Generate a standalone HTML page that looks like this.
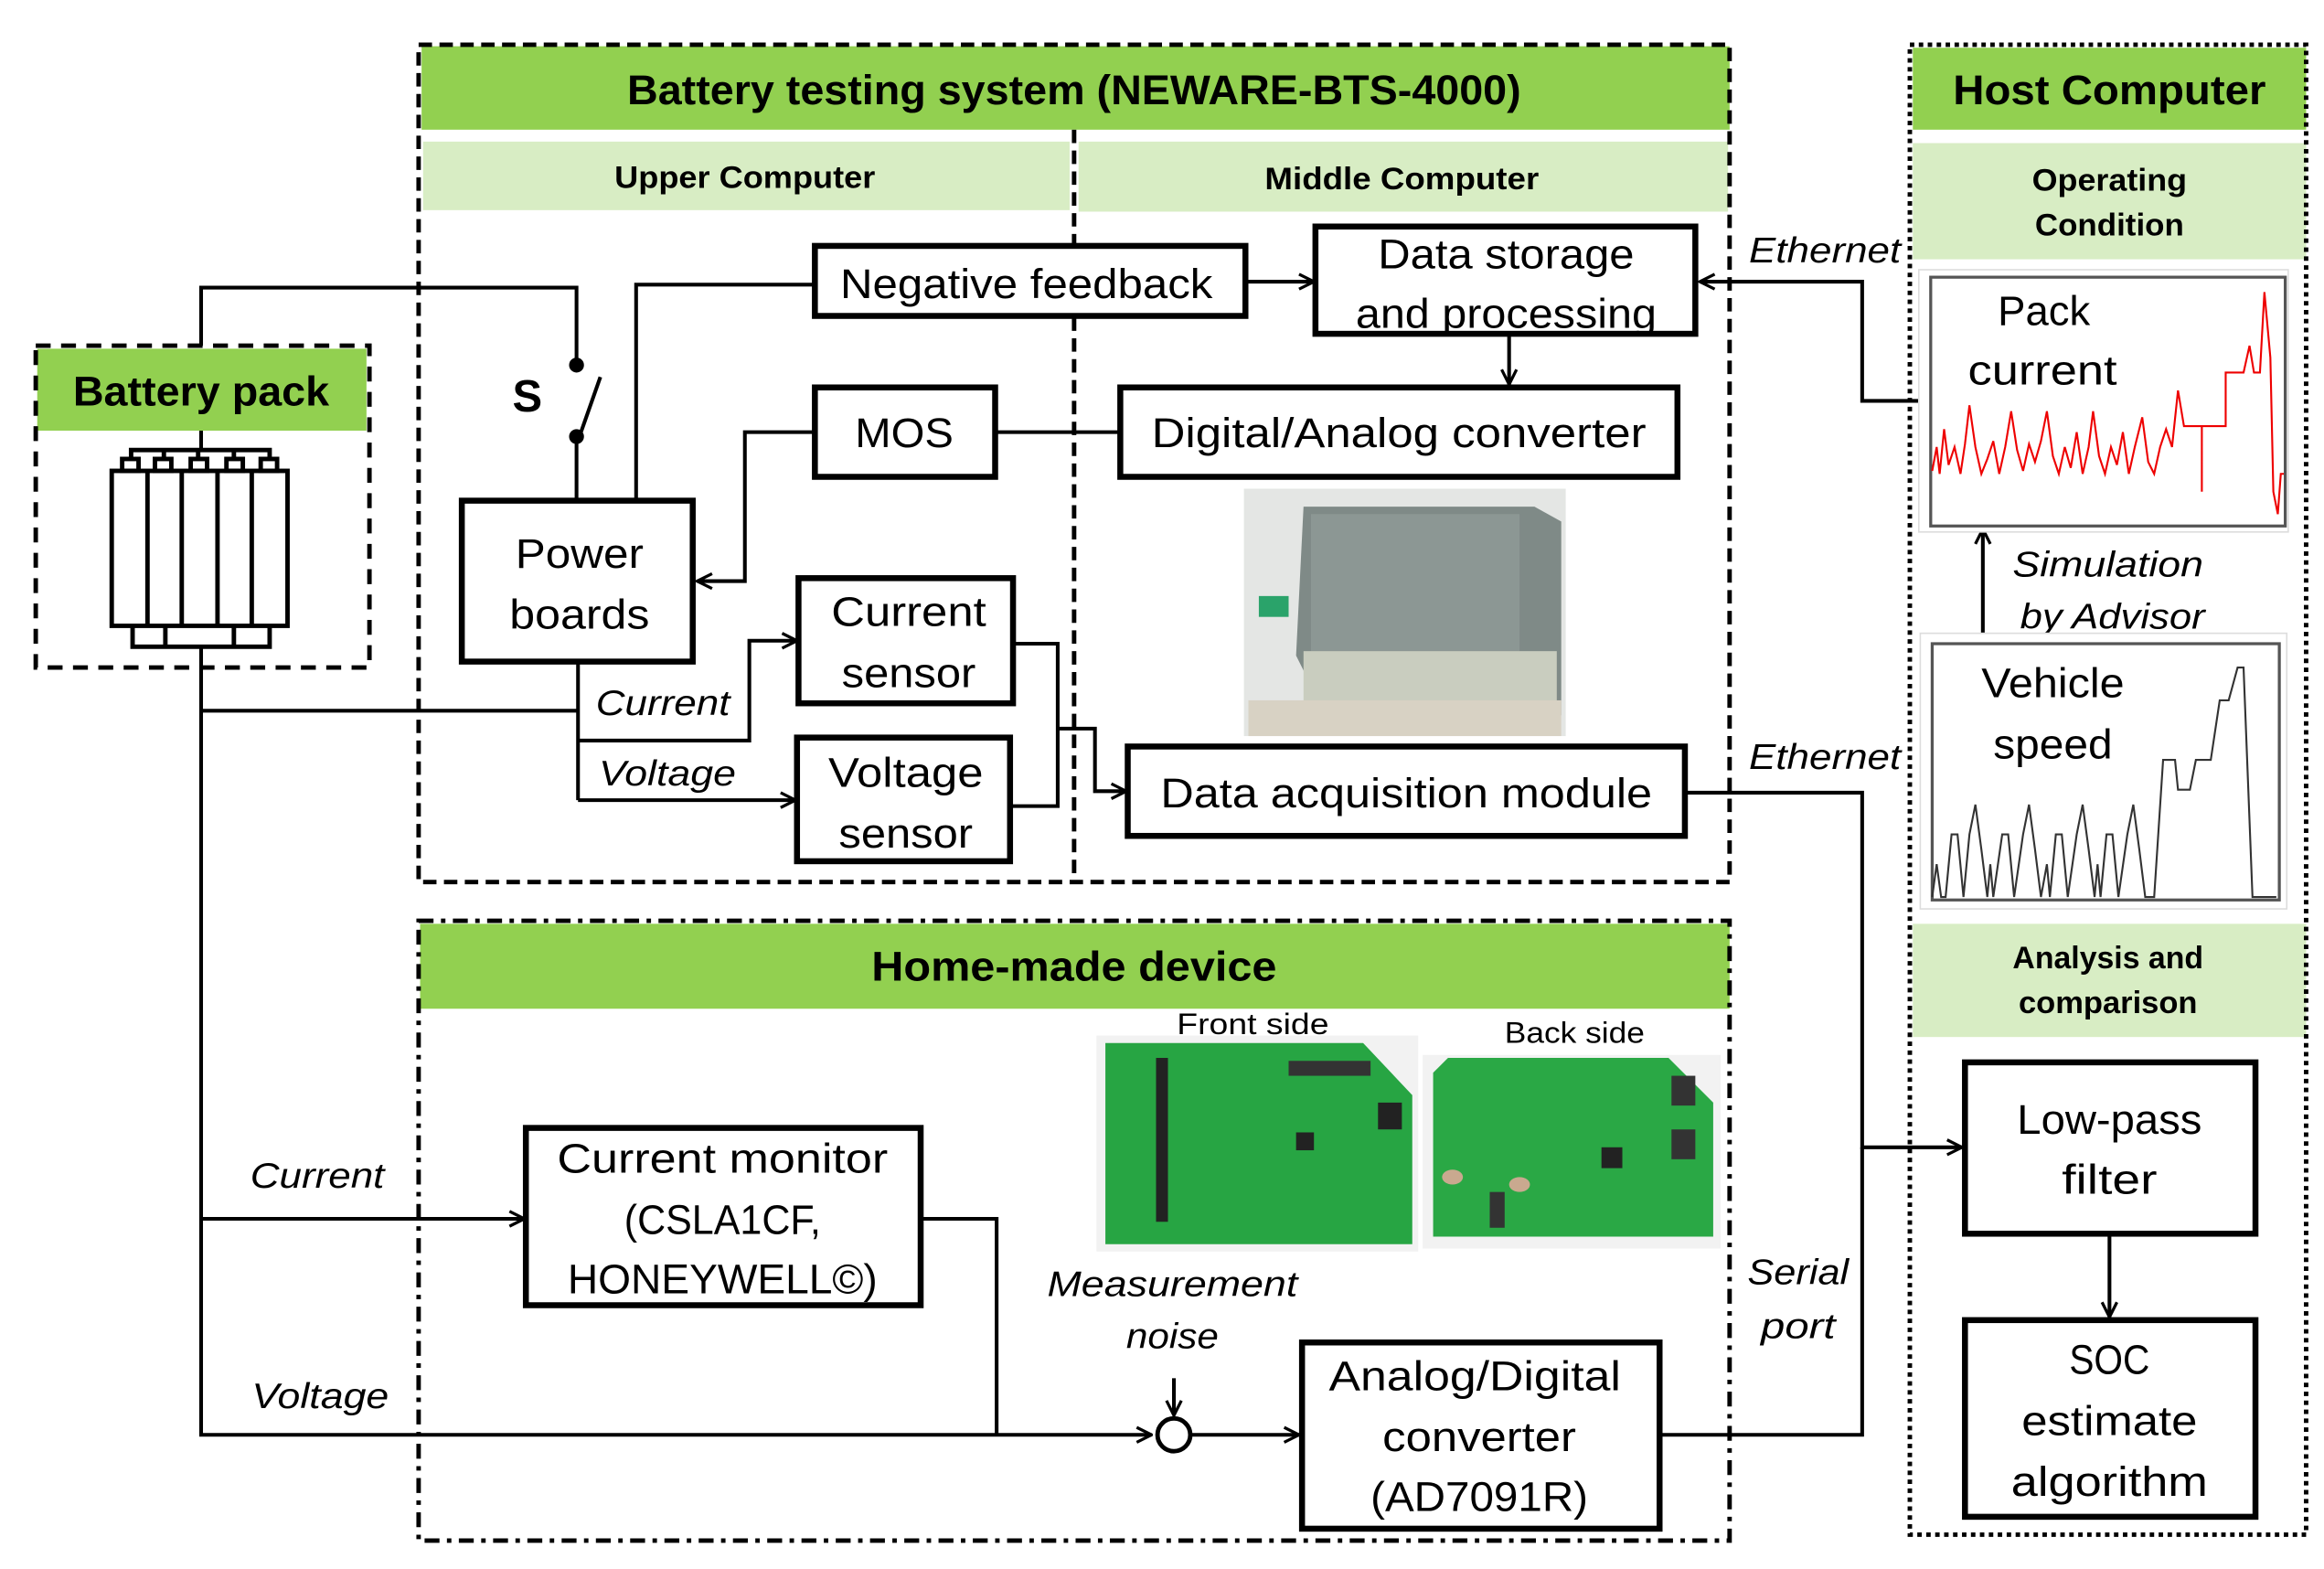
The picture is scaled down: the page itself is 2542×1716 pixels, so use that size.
<!DOCTYPE html>
<html><head><meta charset="utf-8"><style>
html,body{margin:0;padding:0;background:#fff;}
svg{display:block;}
text{font-family:"Liberation Sans",sans-serif;}
</style></head><body>
<svg width="2542" height="1716" viewBox="0 0 1560 1053" xmlns="http://www.w3.org/2000/svg">
<defs>
<marker id="a" viewBox="0 0 12 12" refX="11" refY="6" markerWidth="12" markerHeight="12" markerUnits="userSpaceOnUse" orient="auto">
<path d="M1,1 L11,6 L1,11" fill="none" stroke="#000" stroke-width="2"/></marker>
</defs>
<rect width="1560" height="1053" fill="#fff"/>

<!-- Battery testing system -->
<rect x="283" y="31" width="878" height="56" fill="#92D050"/>
<rect x="284" y="95" width="434" height="46" fill="#D8EDC4"/>
<rect x="724" y="95" width="436" height="47" fill="#D8EDC4"/>
<rect x="281" y="30" width="880" height="562" fill="none" stroke="#000" stroke-width="3" stroke-dasharray="9,5"/>
<line x1="721" y1="87" x2="721" y2="592" stroke="#000" stroke-width="3" stroke-dasharray="9,5"/>
<text x="721" y="70" font-size="28" font-weight="bold" text-anchor="middle" textLength="600" lengthAdjust="spacingAndGlyphs">Battery testing system (NEWARE-BTS-4000)</text>
<text x="500" y="126" font-size="21" font-weight="bold" text-anchor="middle" textLength="175" lengthAdjust="spacingAndGlyphs">Upper Computer</text>
<text x="941" y="127" font-size="21" font-weight="bold" text-anchor="middle" textLength="184" lengthAdjust="spacingAndGlyphs">Middle Computer</text>

<!-- Host Computer -->
<rect x="1284" y="32" width="264" height="55" fill="#92D050"/>
<rect x="1284" y="96" width="264" height="78" fill="#D8EDC4"/>
<rect x="1284" y="620" width="264" height="76" fill="#D8EDC4"/>
<rect x="1282" y="30" width="266" height="1000" fill="none" stroke="#000" stroke-width="3" stroke-dasharray="3,3"/>
<text x="1416" y="70" font-size="28" font-weight="bold" text-anchor="middle" textLength="210" lengthAdjust="spacingAndGlyphs">Host Computer</text>
<text x="1416" y="128" font-size="21" font-weight="bold" text-anchor="middle" textLength="104" lengthAdjust="spacingAndGlyphs">Operating</text>
<text x="1416" y="158" font-size="21" font-weight="bold" text-anchor="middle" textLength="100" lengthAdjust="spacingAndGlyphs">Condition</text>
<text x="1415" y="650" font-size="21" font-weight="bold" text-anchor="middle" textLength="128" lengthAdjust="spacingAndGlyphs">Analysis and</text>
<text x="1415" y="680" font-size="21" font-weight="bold" text-anchor="middle" textLength="120" lengthAdjust="spacingAndGlyphs">comparison</text>

<!-- Battery pack -->
<rect x="25" y="234" width="221" height="55" fill="#92D050"/>
<rect x="24" y="232" width="224" height="216" fill="none" stroke="#000" stroke-width="3" stroke-dasharray="10,7"/>
<text x="135" y="272" font-size="28" font-weight="bold" text-anchor="middle" textLength="172" lengthAdjust="spacingAndGlyphs">Battery pack</text>
<g fill="none" stroke="#000" stroke-width="3">
<rect x="75" y="316" width="118" height="104" fill="#fff"/>
<line x1="99" y1="316" x2="99" y2="420"/><line x1="122" y1="316" x2="122" y2="420"/>
<line x1="146" y1="316" x2="146" y2="420"/><line x1="169" y1="316" x2="169" y2="420"/>
<rect x="82" y="308" width="11" height="8"/><rect x="104" y="308" width="11" height="8"/><rect x="128" y="308" width="11" height="8"/><rect x="152" y="308" width="11" height="8"/><rect x="175" y="308" width="11" height="8"/>
<polyline points="88,308 88,302 181,302 181,308"/>
<line x1="110" y1="302" x2="110" y2="308"/><line x1="133" y1="302" x2="133" y2="308"/><line x1="157" y1="302" x2="157" y2="308"/>
<polyline points="89,420 89,434 181,434 181,420"/>
<line x1="111" y1="420" x2="111" y2="434"/><line x1="157" y1="420" x2="157" y2="434"/>
</g>

<!-- wires -->
<g fill="none" stroke="#000" stroke-width="2.5">
<polyline points="135,232 135,193 387,193 387,245"/>
<line x1="135" y1="289" x2="135" y2="302"/>
<line x1="403" y1="253" x2="390" y2="290"/>
<line x1="387" y1="293" x2="387" y2="336"/>
<polyline points="427,336 427,191 547,191"/>
<line x1="836" y1="189" x2="882" y2="189" marker-end="url(#a)"/>
<line x1="1013" y1="224" x2="1013" y2="258" marker-end="url(#a)"/>
<polyline points="1297,269 1250,269 1250,189 1141,189" marker-end="url(#a)"/>
<line x1="668" y1="290" x2="752" y2="290"/>
<polyline points="547,290 500,290 500,390 468,390" marker-end="url(#a)"/>
<polyline points="135,434 135,963 773,963" marker-end="url(#a)"/>
<line x1="135" y1="477" x2="388" y2="477"/>
<line x1="388" y1="444" x2="388" y2="537"/>
<polyline points="388,497 503,497 503,430 535,430" marker-end="url(#a)"/>
<line x1="388" y1="537" x2="534" y2="537" marker-end="url(#a)"/>
<polyline points="680,432 710,432 710,541 678,541"/>
<polyline points="710,489 735,489 735,531 756,531" marker-end="url(#a)"/>
<polyline points="1131,532 1250,532 1250,770 1317,770" marker-end="url(#a)"/>
<polyline points="1115,963 1250,963 1250,770"/>
<line x1="1416" y1="828" x2="1416" y2="884" marker-end="url(#a)"/>
<line x1="1331" y1="432" x2="1331" y2="355" marker-end="url(#a)"/>
<line x1="135" y1="818" x2="352" y2="818" marker-end="url(#a)"/>
<polyline points="618,818 669,818 669,963"/>
<line x1="788" y1="925" x2="788" y2="950" marker-end="url(#a)"/>
<line x1="800" y1="963" x2="872" y2="963" marker-end="url(#a)"/>
</g>
<circle cx="387" cy="245" r="5"/><circle cx="387" cy="293" r="5"/>
<circle cx="788" cy="963" r="11" fill="#fff" stroke="#000" stroke-width="3"/>
<text x="354" y="276" font-size="30" font-weight="bold" text-anchor="middle">S</text>

<!-- boxes -->
<g fill="#fff" stroke="#000" stroke-width="4">
<rect x="310" y="336" width="155" height="108"/>
<rect x="547" y="165" width="289" height="47"/>
<rect x="883" y="152" width="255" height="72"/>
<rect x="547" y="260" width="121" height="60"/>
<rect x="752" y="260" width="374" height="60"/>
<rect x="536" y="388" width="144" height="84"/>
<rect x="535" y="495" width="143" height="83"/>
<rect x="757" y="501" width="374" height="60"/>
<rect x="353" y="757" width="265" height="119"/>
<rect x="874" y="901" width="240" height="125"/>
<rect x="1319" y="713" width="195" height="115"/>
<rect x="1319" y="886" width="195" height="132"/>
</g>
<g font-size="28" text-anchor="middle">
<text x="389" y="381" textLength="86" lengthAdjust="spacingAndGlyphs">Power</text>
<text x="389" y="422" textLength="94" lengthAdjust="spacingAndGlyphs">boards</text>
<text x="689" y="200" textLength="250" lengthAdjust="spacingAndGlyphs">Negative feedback</text>
<text x="1011" y="180" textLength="172" lengthAdjust="spacingAndGlyphs">Data storage</text>
<text x="1011" y="220" textLength="202" lengthAdjust="spacingAndGlyphs">and processing</text>
<text x="607" y="300" textLength="66" lengthAdjust="spacingAndGlyphs">MOS</text>
<text x="939" y="300" textLength="332" lengthAdjust="spacingAndGlyphs">Digital/Analog converter</text>
<text x="610" y="420" textLength="104" lengthAdjust="spacingAndGlyphs">Current</text>
<text x="610" y="461" textLength="90" lengthAdjust="spacingAndGlyphs">sensor</text>
<text x="608" y="528" textLength="104" lengthAdjust="spacingAndGlyphs">Voltage</text>
<text x="608" y="569" textLength="90" lengthAdjust="spacingAndGlyphs">sensor</text>
<text x="944" y="542" textLength="330" lengthAdjust="spacingAndGlyphs">Data acquisition module</text>
<text x="485" y="787" textLength="222" lengthAdjust="spacingAndGlyphs">Current monitor</text>
<text x="485" y="828" textLength="132" lengthAdjust="spacingAndGlyphs">(CSLA1CF,</text>
<text x="485" y="868" textLength="208" lengthAdjust="spacingAndGlyphs">HONEYWELL©)</text>
<text x="990" y="933" textLength="196" lengthAdjust="spacingAndGlyphs">Analog/Digital</text>
<text x="993" y="974" textLength="130" lengthAdjust="spacingAndGlyphs">converter</text>
<text x="993" y="1014" textLength="146" lengthAdjust="spacingAndGlyphs">(AD7091R)</text>
<text x="1416" y="761" textLength="124" lengthAdjust="spacingAndGlyphs">Low-pass</text>
<text x="1416" y="801" textLength="64" lengthAdjust="spacingAndGlyphs">filter</text>
<text x="1416" y="922" textLength="54" lengthAdjust="spacingAndGlyphs">SOC</text>
<text x="1416" y="963" textLength="118" lengthAdjust="spacingAndGlyphs">estimate</text>
<text x="1416" y="1004" textLength="132" lengthAdjust="spacingAndGlyphs">algorithm</text>
</g>
<g font-size="24" font-style="italic" text-anchor="middle">
<text x="445" y="480" textLength="90" lengthAdjust="spacingAndGlyphs">Current</text>
<text x="448" y="527" textLength="92" lengthAdjust="spacingAndGlyphs">Voltage</text>
<text x="1225" y="176" textLength="102" lengthAdjust="spacingAndGlyphs">Ethernet</text>
<text x="1225" y="516" textLength="102" lengthAdjust="spacingAndGlyphs">Ethernet</text>
<text x="1415" y="387" textLength="128" lengthAdjust="spacingAndGlyphs">Simulation</text>
<text x="1418" y="422" textLength="124" lengthAdjust="spacingAndGlyphs">by Advisor</text>
<text x="213" y="797" textLength="90" lengthAdjust="spacingAndGlyphs">Current</text>
<text x="215" y="945" textLength="92" lengthAdjust="spacingAndGlyphs">Voltage</text>
<text x="787" y="870" textLength="168" lengthAdjust="spacingAndGlyphs">Measurement</text>
<text x="787" y="905" textLength="62" lengthAdjust="spacingAndGlyphs">noise</text>
<text x="1207" y="862" textLength="68" lengthAdjust="spacingAndGlyphs">Serial</text>
<text x="1207" y="898" textLength="50" lengthAdjust="spacingAndGlyphs">port</text>
</g>

<!-- Home-made device -->
<rect x="282" y="620" width="879" height="57" fill="#92D050"/>
<rect x="281" y="618" width="880" height="416" fill="none" stroke="#000" stroke-width="3" stroke-dasharray="10,5,3,5"/>
<text x="721" y="658" font-size="28" font-weight="bold" text-anchor="middle" textLength="272" lengthAdjust="spacingAndGlyphs">Home-made device</text>

<!-- tester photo -->
<rect x="835" y="328" width="216" height="166" fill="#e4e6e4"/>
<polygon points="875,340 1030,340 1048,350 1048,480 890,480 870,440" fill="#7f8a87"/>
<rect x="880" y="345" width="140" height="92" fill="#8c9794"/>
<rect x="875" y="437" width="170" height="45" fill="#c9cdbf"/>
<rect x="845" y="400" width="20" height="14" fill="#2aa36a"/>
<rect x="838" y="470" width="210" height="24" fill="#d8d2c4"/>

<!-- PCB photos -->
<text x="841" y="694" font-size="20" text-anchor="middle" textLength="102" lengthAdjust="spacingAndGlyphs">Front side</text>
<text x="1057" y="700" font-size="20" text-anchor="middle" textLength="94" lengthAdjust="spacingAndGlyphs">Back side</text>
<rect x="736" y="695" width="216" height="145" fill="#f2f2f2"/>
<polygon points="742,700 915,700 948,735 948,835 742,835" fill="#27a543"/>
<rect x="776" y="710" width="8" height="110" fill="#222"/>
<rect x="865" y="712" width="55" height="10" fill="#333"/>
<rect x="925" y="740" width="16" height="18" fill="#222"/>
<rect x="870" y="760" width="12" height="12" fill="#222"/>
<rect x="955" y="708" width="200" height="130" fill="#f2f2f2"/>
<polygon points="972,710 1120,710 1150,740 1150,830 962,830 962,720" fill="#2aa845"/>
<rect x="1122" y="722" width="16" height="20" fill="#333"/>
<rect x="1122" y="758" width="16" height="20" fill="#333"/>
<rect x="1075" y="770" width="14" height="14" fill="#222"/>
<rect x="1000" y="800" width="10" height="24" fill="#333"/>
<ellipse cx="975" cy="790" rx="7" ry="5" fill="#c9a98f"/><ellipse cx="1020" cy="795" rx="7" ry="5" fill="#c9a98f"/>

<!-- Pack current panel -->
<rect x="1288" y="181" width="248" height="176" fill="#fff" stroke="#ddd" stroke-width="1"/>
<rect x="1296" y="186" width="238" height="167" fill="#fff" stroke="#555" stroke-width="2"/>
<text x="1372" y="218" font-size="28" text-anchor="middle" textLength="62" lengthAdjust="spacingAndGlyphs">Pack</text>
<text x="1371" y="258" font-size="28" text-anchor="middle" textLength="100" lengthAdjust="spacingAndGlyphs">current</text>
<polyline fill="none" stroke="#e00" stroke-width="1.3" points="1297,316 1300,300 1302,318 1305,288 1308,312 1312,300 1316,318 1319,298 1322,272 1326,300 1330,318 1334,308 1338,296 1342,318 1346,300 1350,276 1354,302 1358,316 1362,298 1366,310 1370,296 1374,276 1378,306 1382,318 1386,300 1390,314 1394,290 1398,318 1402,300 1405,276 1409,306 1413,318 1417,300 1421,312 1425,290 1429,318 1433,300 1438,280 1442,310 1446,318 1450,300 1454,288 1458,300 1462,262 1466,286 1478,286 1478,330 1478,286 1494,286 1494,250 1506,250 1510,232 1513,250 1517,250 1520,196 1524,240 1526,330 1529,345 1531,318 1533,318"/>

<!-- Vehicle speed panel -->
<rect x="1289" y="425" width="246" height="185" fill="#fff" stroke="#ddd" stroke-width="1"/>
<rect x="1297" y="432" width="233" height="172" fill="#fff" stroke="#555" stroke-width="2"/>
<text x="1378" y="468" font-size="28" text-anchor="middle" textLength="96" lengthAdjust="spacingAndGlyphs">Vehicle</text>
<text x="1378" y="509" font-size="28" text-anchor="middle" textLength="80" lengthAdjust="spacingAndGlyphs">speed</text>
<polyline fill="none" stroke="#333" stroke-width="1.3" points="1297,602 1300,580 1303,602 1306,602 1310,560 1314,560 1318,602 1322,560 1326,540 1330,570 1334,602 1336,580 1338,602 1344,560 1348,560 1352,602 1358,560 1362,540 1366,570 1370,602 1374,580 1376,602 1380,560 1384,560 1388,602 1394,560 1398,540 1402,570 1406,602 1408,580 1410,602 1414,560 1418,560 1422,602 1428,560 1432,540 1436,570 1440,602 1446,602 1452,510 1460,510 1462,530 1470,530 1474,510 1484,510 1490,470 1496,470 1502,448 1506,448 1512,602 1528,602"/>
</svg>
</body></html>
